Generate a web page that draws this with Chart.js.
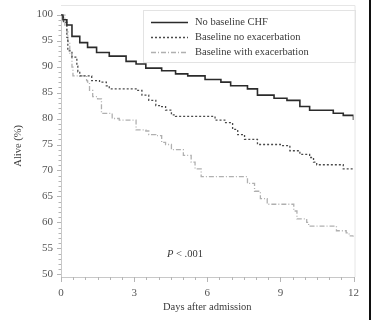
<!DOCTYPE html>
<html lang="en">
<head>
    <meta charset="UTF-8">
    <title>Survival by baseline CHF</title>
    <script src="https://cdn.jsdelivr.net/npm/chart.js"></script>
    <style>
        * { margin: 0; padding: 0; box-sizing: border-box; }
        body { background: #fff; width: 371px; height: 320px; overflow: hidden; }
        .wrap { width: 371px; height: 320px; border-right: 2px solid #111; position: relative; }
        canvas { display: block; }
    </style>
</head>
<body>
<div class="wrap">
    <canvas id="km" width="369" height="320"></canvas>
</div>
<script>
    // series labels
    const seriesNames = ['No baseline CHF', 'Baseline no exacerbation', 'Baseline with exacerbation'];

    // No baseline CHF
    const noChfDays  = [0, 0.08, 0.24, 0.45, 0.77, 1.09, 1.46, 1.98, 2.67, 3.08, 3.48, 4.13, 4.7, 5.2, 5.91, 6.56, 6.96, 7.65, 8.06, 8.74, 9.27, 9.8, 10.2, 11.17, 11.58, 12];
    const noChfAlive = [100, 99, 98, 95.8, 94.6, 93.7, 92.7, 92, 91, 90.5, 89.7, 89.2, 88.6, 88.2, 87.5, 87, 86.3, 85.7, 84.5, 83.9, 83.5, 82.3, 81.6, 81, 80.6, 79.7];

    // Baseline CHF, no exacerbation
    const noExDays  = [0, 0.1, 0.24, 0.28, 0.45, 0.65, 0.69, 0.77, 1.26, 1.58, 1.86, 1.98, 3.08, 3.32, 3.6, 3.89, 4.13, 4.29, 4.53, 4.7, 6.32, 6.72, 7.04, 7.25, 7.53, 8.06, 9.0, 9.39, 9.8, 10.2, 10.36, 10.49, 11.58, 12];
    const noExAlive = [100, 98.5, 95.6, 93, 91.8, 90.1, 89, 88.2, 87.3, 87, 86.3, 85.7, 85.4, 84.5, 83.5, 82.5, 82.3, 81.6, 80.7, 80.4, 79.7, 79.2, 77.9, 76.9, 76, 75, 74.8, 73.8, 73.1, 72.5, 71.6, 71.1, 70.3, 70.3];

    // Baseline CHF with exacerbation
    const withExDays  = [0, 0.16, 0.24, 0.28, 0.36, 0.45, 0.49, 1.05, 1.09, 1.17, 1.3, 1.5, 1.66, 2.1, 2.39, 3.08, 3.48, 3.6, 3.89, 4.13, 4.29, 4.53, 5.02, 5.34, 5.5, 5.75, 7.65, 7.94, 8.18, 8.46, 9.55, 9.68, 10.08, 10.16, 11.3, 11.7, 11.82, 12];
    const withExAlive = [100, 98, 96.7, 94.8, 92.3, 89.9, 88.2, 87.3, 87, 85.4, 84.2, 83.8, 81, 80, 79.7, 77.8, 77.6, 76.9, 76.7, 75.4, 75, 74, 72.9, 71.6, 70.3, 68.8, 67.5, 66, 64.6, 63.5, 62.2, 60.7, 60, 59.3, 58.4, 58, 57.4, 57.2];

    // axis ticks (labelled ones)
    const dayTicks = [0, 3, 6, 9, 12];
    const aliveTicks = [50, 55, 60, 65, 70, 75, 80, 85, 90, 95, 100];

    const serif = '"Liberation Serif", "DejaVu Serif", serif';
    const toPoints = (xs, ys) => xs.map((x, i) => ({ x: x, y: ys[i] }));

    const extras = {
        id: 'extras',
        afterDraw(chart) {
            const c = chart.ctx;
            const xs = chart.scales.x, ys = chart.scales.y;
            const area = chart.chartArea;
            c.save();

            // light frame top / right
            c.strokeStyle = '#e6e6e6';
            c.lineWidth = 1;
            c.beginPath();
            c.moveTo(area.left, 5.5);
            c.lineTo(area.right + 1.5, 5.5);
            c.lineTo(area.right + 1.5, area.bottom);
            c.stroke();

            // tick marks, longer at labelled ones
            c.strokeStyle = '#b5b5b5';
            c.beginPath();
            xs.ticks.forEach(t => {
                const px = Math.round(xs.getPixelForValue(t.value)) + 0.5;
                const len = dayTicks.includes(t.value) ? 5 : 3;
                c.moveTo(px, area.bottom);
                c.lineTo(px, area.bottom + len);
            });
            ys.ticks.forEach(t => {
                const py = Math.round(ys.getPixelForValue(t.value)) + 0.5;
                const len = aliveTicks.includes(t.value) ? 4 : 2.5;
                c.moveTo(area.left, py);
                c.lineTo(area.left - len, py);
            });
            c.stroke();

            // legend box
            const bx = 143.5, by = 10.5, bw = 212, bh = 52;
            c.strokeStyle = '#e3e3e3';
            c.strokeRect(bx, by, bw, bh);
            c.font = '10.5px ' + serif;
            c.textBaseline = 'middle';
            c.textAlign = 'left';
            chart.data.datasets.forEach((ds, i) => {
                const ly = 22.5 + i * 15;
                c.strokeStyle = ds.borderColor;
                c.lineWidth = ds.borderWidth;
                c.setLineDash(ds.borderDash || []);
                c.beginPath();
                c.moveTo(151, ly);
                c.lineTo(188, ly);
                c.stroke();
                c.setLineDash([]);
                c.fillStyle = '#3a3a3a';
                c.fillText(ds.label, 195, ly);
            });

            // p-value
            const px = xs.getPixelForValue(4.35), py = ys.getPixelForValue(53.8);
            c.fillStyle = '#3a3a3a';
            c.font = 'italic 10.5px ' + serif;
            c.fillText('P', px, py);
            const pw = c.measureText('P').width;
            c.font = '10.5px ' + serif;
            c.fillText(' < .001', px + pw, py);

            c.restore();
        }
    };

    new Chart(document.getElementById('km'), {
        type: 'line',
        data: {
            datasets: [
                {
                    label: seriesNames[0],
                    data: toPoints(noChfDays, noChfAlive),
                    borderColor: '#2b2b2b',
                    borderWidth: 1.6,
                    stepped: true,
                    pointRadius: 0
                },
                {
                    label: seriesNames[1],
                    data: toPoints(noExDays, noExAlive),
                    borderColor: '#4a4a4a',
                    borderWidth: 1.3,
                    borderDash: [2, 2],
                    stepped: true,
                    pointRadius: 0
                },
                {
                    label: seriesNames[2],
                    data: toPoints(withExDays, withExAlive),
                    borderColor: '#b0b0b0',
                    borderWidth: 1.3,
                    borderDash: [5, 2, 1, 2],
                    stepped: true,
                    pointRadius: 0
                }
            ]
        },
        options: {
            responsive: false,
            animation: false,
            layout: { padding: { top: 9.5, right: 12, bottom: 0, left: 0 } },
            plugins: { legend: { display: false }, tooltip: { enabled: false } },
            scales: {
                x: {
                    type: 'linear',
                    min: 0,
                    max: 12,
                    grid: { display: false, drawTicks: false },
                    border: { color: '#c8c8c8' },
                    ticks: {
                        stepSize: 0.5,
                        autoSkip: false,
                        maxRotation: 0,
                        padding: 10,
                        color: '#555',
                        font: { family: serif, size: 11 },
                        callback: v => dayTicks.includes(v) ? String(v) : ''
                    },
                    title: {
                        display: true,
                        text: 'Days after admission',
                        color: '#3a3a3a',
                        font: { family: serif, size: 10.5 },
                        padding: { top: 2, bottom: 6 }
                    },
                    afterFit: s => { s.height = 43; }
                },
                y: {
                    min: 49.5,
                    max: 100,
                    grid: { display: false, drawTicks: false },
                    border: { color: '#c8c8c8' },
                    // one tick per unit from 50 to 100
                    afterBuildTicks: s => {
                        const t = [];
                        for (let v = aliveTicks[0]; v <= aliveTicks[aliveTicks.length - 1]; v++) t.push({ value: v });
                        s.ticks = t;
                    },
                    ticks: {
                        autoSkip: false,
                        padding: 8,
                        color: '#555',
                        font: { family: serif, size: 11 },
                        callback: v => aliveTicks.includes(v) ? String(v) : ''
                    },
                    title: {
                        display: true,
                        text: 'Alive (%)',
                        color: '#3a3a3a',
                        font: { family: serif, size: 10.5 },
                        padding: { top: 12, bottom: 0 }
                    },
                    afterFit: s => { s.width = 61; }
                }
            }
        },
        plugins: [extras]
    });
</script>
</body>
</html>
